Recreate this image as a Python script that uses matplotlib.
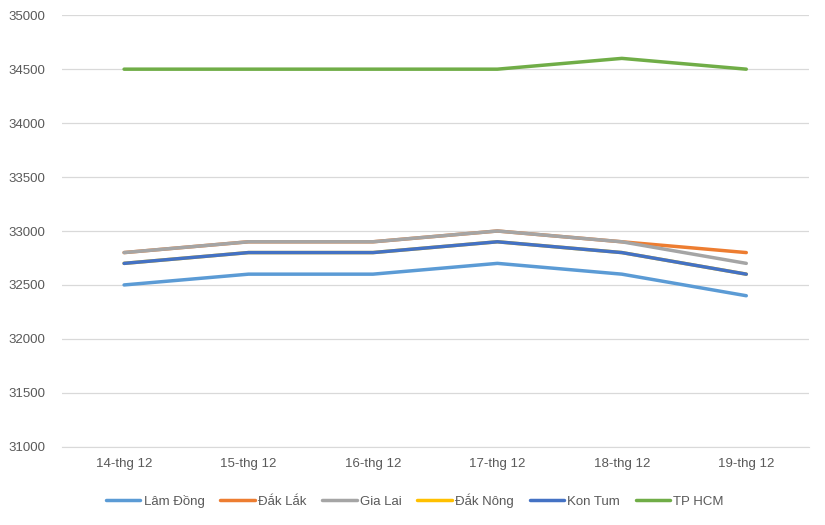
import matplotlib.pyplot as plt
import numpy as np

plt.rcParams['font.family'] = ['Liberation Sans', 'DejaVu Sans']

ngay = ["14-thg 12", "15-thg 12", "16-thg 12", "17-thg 12", "18-thg 12", "19-thg 12"]

lam_dong = [32500, 32600, 32600, 32700, 32600, 32400]
dak_lak = [32800, 32900, 32900, 33000, 32900, 32800]
gia_lai = [32800, 32900, 32900, 33000, 32900, 32700]
dak_nong = [32700, 32800, 32800, 32900, 32800, 32600]
kon_tum = [32700, 32800, 32800, 32900, 32800, 32600]
tp_hcm = [34500, 34500, 34500, 34500, 34600, 34500]

series = [
    ("Lâm Đồng", lam_dong, "#5B9BD5"),
    ("Đắk Lắk", dak_lak, "#ED7D31"),
    ("Gia Lai", gia_lai, "#A5A5A5"),
    ("Đắk Nông", dak_nong, "#FFC000"),
    ("Kon Tum", kon_tum, "#4472C4"),
    ("TP HCM", tp_hcm, "#70AD47"),
]

fig = plt.figure(figsize=(8.25, 5.25), dpi=100)
ax = fig.add_axes([0.075, 0.149, 0.905, 0.822])

x = np.arange(len(ngay))
for nome, valores, cor in series:
    ax.plot(x, valores, color=cor, linewidth=2.5, label=nome, solid_capstyle='round')

ax.set_xlim(-0.5, len(ngay) - 0.5)
ax.set_ylim(31000, 35000)
ax.set_yticks(np.arange(31000, 35001, 500))
ax.set_xticks(x)
ax.set_xticklabels(ngay)
ax.grid(axis='y', color='#D9D9D9', linewidth=0.9)
ax.set_axisbelow(True)
for s in ['top', 'right', 'left']:
    ax.spines[s].set_visible(False)
ax.spines['bottom'].set_color('#D9D9D9')
ax.tick_params(axis='both', length=0, labelsize=9.5, colors='#595959', pad=8)
ax.tick_params(axis='y', pad=12)

ax.legend(loc='upper center', bbox_to_anchor=(0.473, -0.08), ncol=6, frameon=False,
          fontsize=9.5, labelcolor='#595959', handlelength=2.6, handletextpad=0.25,
          columnspacing=1.2)

fig.savefig("out.png", dpi=100)
